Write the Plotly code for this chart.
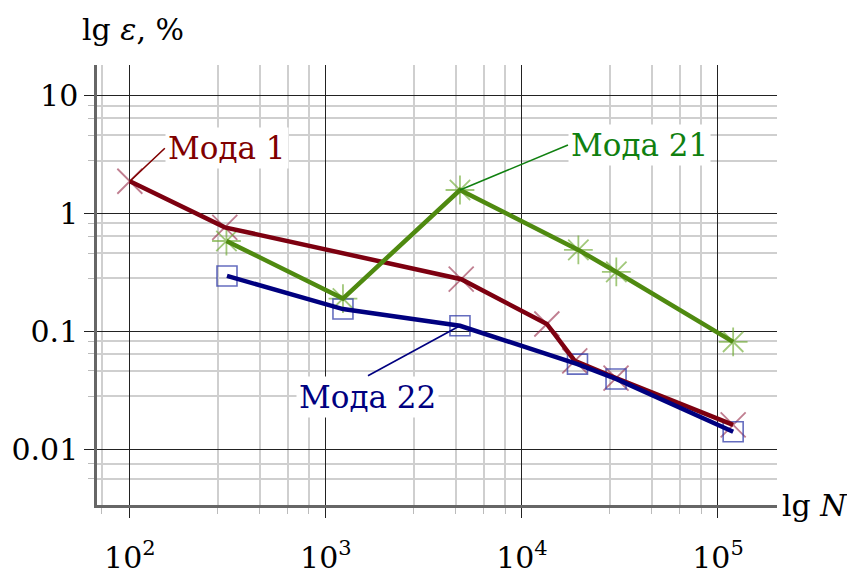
import plotly.graph_objects as go
import numpy as np

# ---- data ----
mode1_N = [100, 305, 4900, 13400, 18600, 30200, 119500]
mode1_eps = [1.87, 0.76, 0.276, 0.115, 0.056, 0.040, 0.016]

mode21_N = [311, 1222, 4830, 19400, 30300, 119500]
mode21_eps = [0.582, 0.189, 1.575, 0.489, 0.318, 0.0812]

mode22_N = [313, 1222, 4830, 19200, 30200, 119500]
mode22_eps = [0.294, 0.154, 0.111, 0.0525, 0.0393, 0.0140]

x_ticks = [100, 1000, 10000, 100000]
x_ticktext = ["10<sup>2</sup>", "10<sup>3</sup>", "10<sup>4</sup>", "10<sup>5</sup>"]
y_ticks = [0.01, 0.1, 1, 10]
y_ticktext = ["0.01", "0.1", "1", "10"]

labels = ["Мода 1", "Мода 21", "Мода 22"]

# ---- styling ----
FONT = "DejaVu Serif"
RED, GREEN, BLUE = "#7d0010", "#4f8a10", "#00007f"
RED_T, GREEN_T, BLUE_T = "#800000", "#108010", "#000080"

x_minor = [72] + [d * m for d in (100, 1000, 10000) for m in (2.8, 4.6, 6.4, 8.2)]
y_minor = [0.0056, 0.0075] + [d * m for d in (0.01, 0.1, 1) for m in (2.8, 4.6, 6.4, 8.2)] + [8.2]

fig = go.Figure()

fig.add_trace(go.Scatter(x=mode1_N, y=mode1_eps, mode="markers",
                         marker=dict(symbol="x-thin-open", size=25, color="rgba(150,40,70,0.6)",
                                     line=dict(width=1.8, color="rgba(150,40,70,0.6)")),
                         showlegend=False, hoverinfo="skip"))
fig.add_trace(go.Scatter(x=mode21_N, y=mode21_eps, mode="markers",
                         marker=dict(symbol="asterisk-open", size=24, color="rgba(110,170,50,0.65)",
                                     line=dict(width=1.8, color="rgba(110,170,50,0.65)")),
                         showlegend=False, hoverinfo="skip"))
fig.add_trace(go.Scatter(x=mode22_N, y=mode22_eps, mode="markers",
                         marker=dict(symbol="square-open", size=20, color="rgba(50,60,170,0.75)",
                                     line=dict(width=1.6, color="rgba(50,60,170,0.75)")),
                         showlegend=False, hoverinfo="skip"))

fig.add_trace(go.Scatter(x=mode1_N, y=mode1_eps, mode="lines", name=labels[0],
                         line=dict(color=RED, width=4.5), showlegend=False))
fig.add_trace(go.Scatter(x=mode21_N, y=mode21_eps, mode="lines", name=labels[1],
                         line=dict(color=GREEN, width=4.5), showlegend=False))
fig.add_trace(go.Scatter(x=mode22_N, y=mode22_eps, mode="lines", name=labels[2],
                         line=dict(color=BLUE, width=4.5), showlegend=False))

ann_font = dict(family=FONT, size=31)
fig.add_annotation(x=np.log10(mode1_N[0]), y=np.log10(mode1_eps[0]), text=labels[0],
                   showarrow=True, arrowhead=0, arrowwidth=1.6, arrowcolor=RED_T,
                   ax=35, ay=-33, xanchor="left", yanchor="middle",
                   font=dict(color=RED_T, **ann_font), bgcolor="white", borderpad=2)
fig.add_annotation(x=np.log10(mode21_N[2]), y=np.log10(mode21_eps[2]), text=labels[1],
                   showarrow=True, arrowhead=0, arrowwidth=1.6, arrowcolor=GREEN_T,
                   ax=108, ay=-45, xanchor="left", yanchor="middle",
                   font=dict(color=GREEN_T, **ann_font), bgcolor="white", borderpad=2)
fig.add_annotation(x=np.log10(mode22_N[2]), y=np.log10(mode22_eps[2]), text=labels[2],
                   showarrow=True, arrowhead=0, arrowwidth=1.6, arrowcolor=BLUE_T,
                   ax=-92, ay=50, xanchor="center", yanchor="top",
                   font=dict(color=BLUE_T, **ann_font), bgcolor="white", borderpad=2)

fig.add_annotation(xref="paper", yref="paper", x=-0.025, y=1.08, xanchor="left", yanchor="middle",
                   text="lg <i>ε</i>, %", showarrow=False, font=dict(family=FONT, size=30, color="black"))
fig.add_annotation(xref="paper", yref="paper", x=1.004, y=0.0, xanchor="left", yanchor="middle",
                   text="lg <i>N</i>", showarrow=False, font=dict(family=FONT, size=30, color="black"))

fig.update_xaxes(type="log", range=[np.log10(68), np.log10(200000)], automargin=False,
                 tickvals=x_ticks, ticktext=x_ticktext,
                 tickfont=dict(family=FONT, size=30, color="black"), ticklabelstandoff=14,
                 showgrid=True, gridcolor="#222", gridwidth=1.2,
                 ticks="outside", ticklen=10, tickcolor="#222", tickwidth=1,
                 showline=True, linecolor="#666", linewidth=2.5,
                 zeroline=False,
                 minor=dict(tickvals=x_minor, showgrid=True, gridcolor="#cfcfcf", gridwidth=1.6,
                            ticks="outside", ticklen=6, tickcolor="#bbb"))
fig.update_yaxes(type="log", range=[-2.475, 1.258], automargin=False,
                 tickvals=y_ticks, ticktext=y_ticktext,
                 tickfont=dict(family=FONT, size=30, color="black"), ticklabelstandoff=0,
                 showgrid=True, gridcolor="#222", gridwidth=1.2,
                 ticks="outside", ticklen=10, tickcolor="#222", tickwidth=1,
                 showline=True, linecolor="#666", linewidth=2.5,
                 zeroline=False,
                 minor=dict(tickvals=y_minor, showgrid=True, gridcolor="#cfcfcf", gridwidth=1.6,
                            ticks="outside", ticklen=6, tickcolor="#bbb"))

fig.update_layout(width=847, height=574, margin=dict(l=97, r=70, t=65, b=69),
                  plot_bgcolor="white", paper_bgcolor="white",
                  font=dict(family=FONT, color="black"))

fig.write_html("out.html")
